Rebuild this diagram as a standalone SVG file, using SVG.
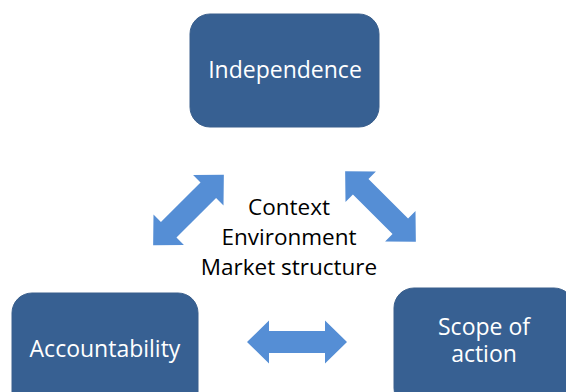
<svg xmlns="http://www.w3.org/2000/svg" width="566" height="392" viewBox="0 0 566 392">
<style>
.box{fill:#376092;stroke:#3A5F8C;stroke-width:1}
.bt{font-family:"Open Sans","Liberation Sans",sans-serif;font-size:23px;fill:#FFFFFF;text-anchor:middle}
.ct{font-family:"Open Sans","Liberation Sans",sans-serif;font-size:22.5px;fill:#000000;text-anchor:middle}
.arr{fill:#558ED5}
</style>
<defs>
<polygon id="dbl" points="-50,0 -28,-21.5 -28,-11 28,-11 28,-21.5 50,0 28,21.5 28,11 -28,11 -28,21.5"/>
</defs>
<g id="independence">
<rect class="box" x="190" y="14" width="189" height="113" rx="20"/>
<text class="bt" x="285" y="78">Independence</text>
</g>
<g id="accountability">
<rect class="box" x="12" y="293" width="186" height="120" rx="20"/>
<text class="bt" x="105" y="357">Accountability</text>
</g>
<g id="scope">
<rect class="box" x="394" y="288" width="180" height="120" rx="20"/>
<text class="bt" x="484" y="335">Scope of</text>
<text class="bt" x="484" y="362">action</text>
</g>
<g id="context">
<text class="ct" x="289" y="215">Context</text>
<text class="ct" x="289" y="245">Environment</text>
<text class="ct" x="289" y="275">Market structure</text>
</g>
<g id="connectors">
<use href="#dbl" class="arr" transform="translate(297,342)"/>
<use href="#dbl" class="arr" transform="translate(188.5,210) rotate(-45)"/>
<use href="#dbl" class="arr" transform="translate(380.5,206.5) rotate(45)"/>
</g>
</svg>
